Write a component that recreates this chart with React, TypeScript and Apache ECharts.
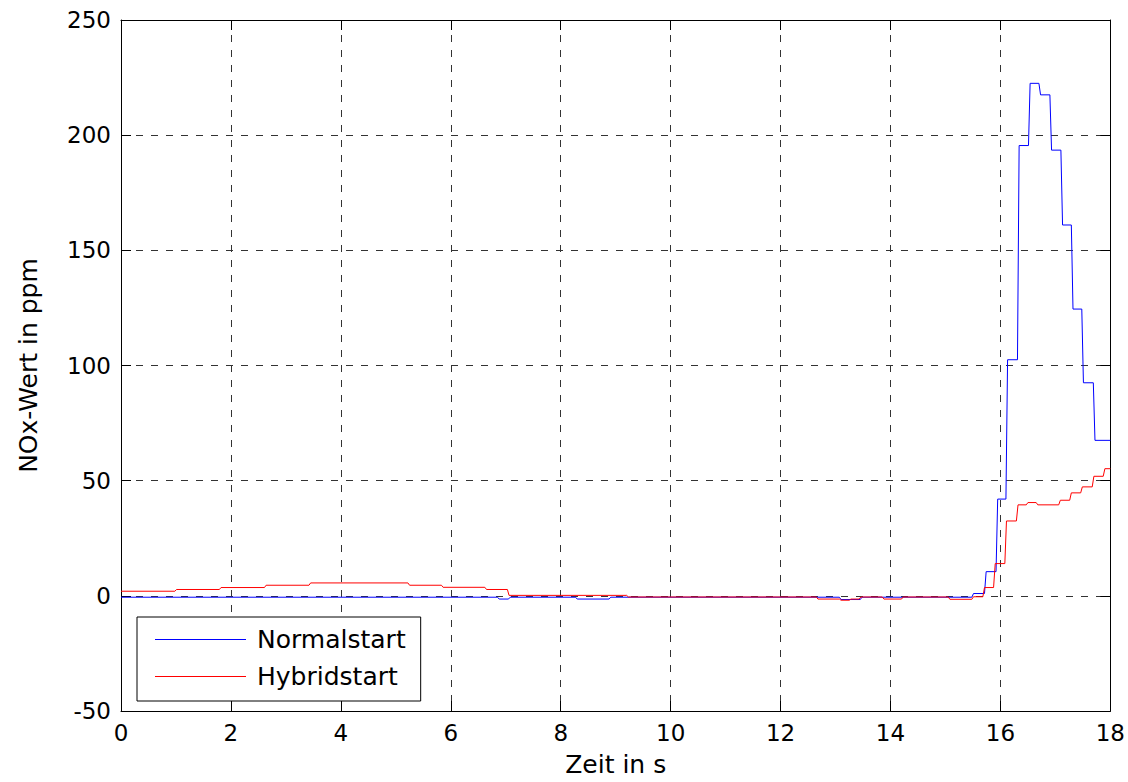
import React, { useEffect, useRef } from "react";
import * as echarts from "echarts";

// Breakpoints of the held (zero-order hold) signals: value[i] holds from time[i] until time[i+1]
const normalTimes = [0, 6.85, 7.05, 8.27, 8.88, 13.07, 13.45, 15.48, 15.71, 15.92, 16.1, 16.31, 16.51, 16.7, 16.9, 17.1, 17.29, 17.48, 17.69, 18];
const normalValues = [-0.6, -1.4, -0.6, -1.4, -0.6, -1.6, -0.6, 1.0, 10.5, 42, 102.5, 195.5, 222.5, 217.5, 193.5, 161, 124.5, 92.5, 67.5, 67.5];

const hybridTimes = [0, 0.98, 1.79, 2.61, 3.42, 5.22, 5.83, 6.62, 7.03, 9.2, 12.65, 13.07, 13.25, 13.43, 13.85, 14.2, 15.05, 15.48, 15.68, 15.875, 16.08, 16.29, 16.47, 16.65, 17.06, 17.26, 17.46, 17.67, 17.87, 18];
const hybridValues = [2.0, 2.75, 3.6, 4.6, 5.6, 4.6, 3.7, 2.75, 0.2, -0.5, -1.4, -1.9, -1.4, -0.5, -1.4, -0.5, -1.5, -0.4, 3.6, 14, 32.5, 39.5, 40.5, 39.5, 41.5, 44.7, 47.3, 51.9, 55.2, 55.2];

const xTicks = { min: 0, max: 18, interval: 2 };
const yTicks = { min: -50, max: 250, interval: 50 };

const seriesNames = ["Normalstart", "Hybridstart"];
const RAMP = 0.03;

function held(times: number[], values: number[]): number[][] {
  const pts: number[][] = [];
  for (let i = 0; i < times.length; i++) {
    if (i === 0) {
      pts.push([times[0], values[0]]);
      continue;
    }
    pts.push([times[i], values[i - 1]]);
    if (i < times.length - 1) {
      pts.push([times[i] + RAMP, values[i]]);
    } else {
      pts.push([times[i], values[i]]);
    }
  }
  return pts;
}

const FONT = "DejaVu Sans";

export default function App() {
  const ref = useRef<HTMLDivElement>(null);
  useEffect(() => {
    if (!ref.current) return;
    const chart = echarts.init(ref.current, null, { renderer: "svg" });
    const axisLine = { show: true, onZero: false, lineStyle: { color: "#000", width: 1 } };
    const axisTick = { show: true, inside: true, length: 10, lineStyle: { color: "#000", width: 1 } };
    const split = { show: true, lineStyle: { color: "#333", width: 1, type: [7, 8] as any } };
    chart.setOption({
      animation: false,
      backgroundColor: "#fff",
      textStyle: { fontFamily: FONT, color: "#000" },
      grid: { left: 121, right: 17, top: 20, bottom: 69, containLabel: false },
      legend: {
        orient: "vertical",
        left: 137,
        top: 617,
        padding: [10, 15, 12, 18],
        itemGap: 12,
        itemWidth: 91,
        itemHeight: 1,
        icon: "rect",
        borderColor: "#000",
        borderWidth: 1,
        backgroundColor: "#fff",
        borderRadius: 0,
        data: seriesNames,
        textStyle: { fontSize: 25, fontFamily: FONT, color: "#000", padding: [0, 0, 0, 6] },
      },
      xAxis: [
        {
          type: "value",
          position: "bottom",
          min: xTicks.min,
          max: xTicks.max,
          interval: xTicks.interval,
          axisLine,
          axisTick,
          axisLabel: { fontSize: 23, color: "#000", margin: 10, fontFamily: FONT },
          splitLine: split,
          name: "Zeit in s",
          nameLocation: "middle",
          nameGap: 41,
          nameTextStyle: { fontSize: 25, color: "#000", fontFamily: FONT },
        },
        {
          type: "value",
          position: "top",
          min: xTicks.min,
          max: xTicks.max,
          interval: xTicks.interval,
          axisLine,
          axisTick,
          axisLabel: { show: false },
          splitLine: { show: false },
        },
      ],
      yAxis: [
        {
          type: "value",
          position: "left",
          min: yTicks.min,
          max: yTicks.max,
          interval: yTicks.interval,
          axisLine,
          axisTick,
          axisLabel: { fontSize: 23, color: "#000", margin: 10, fontFamily: FONT },
          splitLine: split,
          name: "NOx-Wert in ppm",
          nameLocation: "middle",
          nameGap: 80,
          nameTextStyle: { fontSize: 25, color: "#000", fontFamily: FONT },
        },
        {
          type: "value",
          position: "right",
          min: yTicks.min,
          max: yTicks.max,
          interval: yTicks.interval,
          axisLine,
          axisTick,
          axisLabel: { show: false },
          splitLine: { show: false },
        },
      ],
      series: [
        {
          name: seriesNames[0],
          type: "line",
          symbol: "none",
          xAxisIndex: 0,
          yAxisIndex: 0,
          data: held(normalTimes, normalValues),
          lineStyle: { color: "#0000ff", width: 1 },
          itemStyle: { color: "#0000ff" },
        },
        {
          name: seriesNames[1],
          type: "line",
          symbol: "none",
          xAxisIndex: 0,
          yAxisIndex: 0,
          data: held(hybridTimes, hybridValues),
          lineStyle: { color: "#ff0000", width: 1 },
          itemStyle: { color: "#ff0000" },
        },
      ],
    });
    return () => chart.dispose();
  }, []);
  return (
    <div
      ref={ref}
      style={{ position: "absolute", left: 0, top: 0, width: 1128, height: 782 }}
    />
  );
}
